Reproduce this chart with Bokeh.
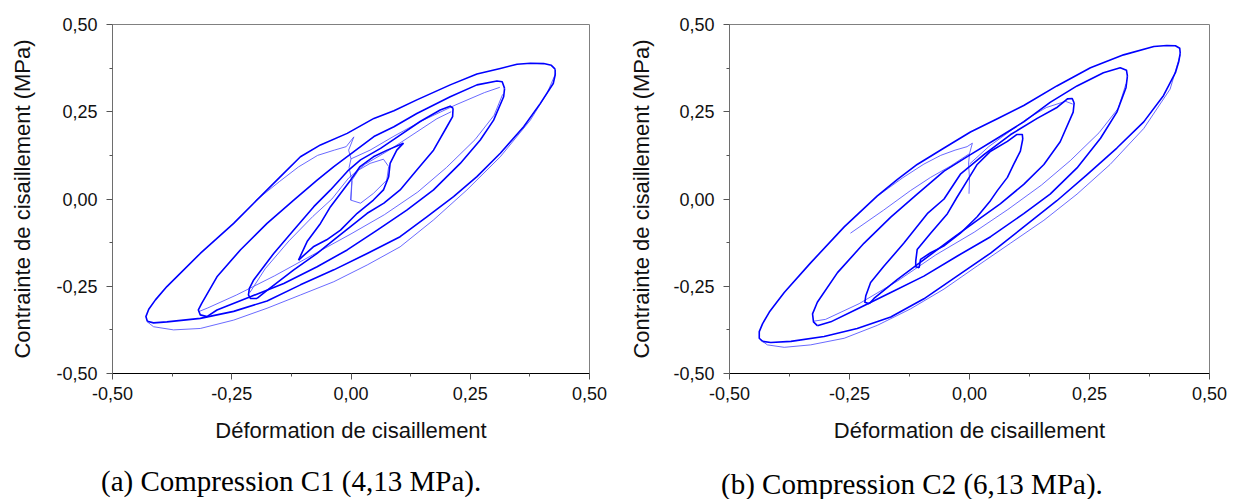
from bokeh.plotting import figure
from bokeh.models import Range1d, FixedTicker, Div
from bokeh.layouts import row, column
from bokeh.embed import file_html
from bokeh.resources import INLINE

# ---------------- data ----------------
TICKS = [-0.5, -0.25, 0.0, 0.25, 0.5]
MINOR = [-0.375, -0.125, 0.125, 0.375]
TICK_LABELS = ["-0,50", "-0,25", "0,00", "0,25", "0,50"]
X_TITLE = "Déformation de cisaillement"
Y_TITLE = "Contrainte de cisaillement (MPa)"
CAPTION_A = "(a) Compression C1 (4,13 MPa)."
CAPTION_B = "(b) Compression C2 (6,13 MPa)."

# ---- panel (a) : C1 ----
A4_UP_X = [-0.427, -0.430, -0.424, -0.410, -0.386, -0.316, -0.246, -0.204, -0.148, -0.106, -0.064, -0.008, 0.048, 0.090, 0.138, 0.208, 0.264, 0.313, 0.348, 0.376, 0.404, 0.420, 0.428]
A4_UP_Y = [-0.350, -0.337, -0.316, -0.289, -0.251, -0.156, -0.070, -0.012, 0.064, 0.121, 0.155, 0.188, 0.231, 0.253, 0.284, 0.327, 0.358, 0.374, 0.386, 0.389, 0.388, 0.383, 0.372]
A4_LO_X = [0.428, 0.428, 0.424, 0.397, 0.362, 0.313, 0.264, 0.215, 0.159, 0.103, 0.034, -0.036, -0.106, -0.176, -0.246, -0.316, -0.386, -0.414, -0.427]
A4_LO_Y = [0.372, 0.355, 0.331, 0.274, 0.207, 0.131, 0.064, 0.007, -0.051, -0.108, -0.156, -0.203, -0.246, -0.292, -0.322, -0.342, -0.352, -0.355, -0.350]
A4_LO2_X = [0.429, 0.411, 0.376, 0.313, 0.243, 0.173, 0.103, 0.034, -0.036, -0.106, -0.176, -0.246, -0.316, -0.372, -0.414, -0.428]
A4_LO2_Y = [0.360, 0.303, 0.226, 0.121, 0.026, -0.060, -0.137, -0.189, -0.237, -0.275, -0.313, -0.347, -0.371, -0.375, -0.366, -0.351]

A3_UP_X = [-0.302, -0.316, -0.320, -0.313, -0.281, -0.232, -0.176, -0.120, -0.071, -0.036, 0.006, 0.048, 0.090, 0.138, 0.208, 0.264, 0.306, 0.317, 0.322]
A3_UP_Y = [-0.337, -0.332, -0.318, -0.299, -0.223, -0.146, -0.070, -0.003, 0.054, 0.093, 0.136, 0.179, 0.207, 0.245, 0.293, 0.327, 0.338, 0.336, 0.317]
A3_LO_X = [0.322, 0.320, 0.299, 0.271, 0.229, 0.173, 0.117, 0.055, -0.008, -0.071, -0.141, -0.211, -0.281, -0.302]
A3_LO_Y = [0.317, 0.293, 0.226, 0.169, 0.102, 0.026, -0.032, -0.089, -0.146, -0.194, -0.242, -0.280, -0.318, -0.337]
A3_IN_X = [0.312, 0.280, 0.220, 0.150, 0.090, 0.040, 0.000]
A3_IN_Y = [0.320, 0.305, 0.270, 0.225, 0.180, 0.140, 0.115]
A3_LO2_X = [0.318, 0.300, 0.260, 0.200, 0.140, 0.070, 0.000, -0.080, -0.160, -0.240, -0.300, -0.318]
A3_LO2_Y = [0.300, 0.240, 0.170, 0.090, 0.020, -0.045, -0.100, -0.160, -0.220, -0.275, -0.312, -0.322]

A2_UP_X = [-0.197, -0.211, -0.215, -0.213, -0.204, -0.162, -0.120, -0.078, -0.043, -0.005, 0.020, 0.062, 0.103, 0.145, 0.187, 0.208, 0.214]
A2_UP_Y = [-0.285, -0.285, -0.275, -0.256, -0.232, -0.156, -0.089, -0.022, 0.026, 0.083, 0.112, 0.145, 0.183, 0.222, 0.255, 0.266, 0.260]
A2_LO_X = [0.214, 0.213, 0.201, 0.173, 0.138, 0.103, 0.069, 0.034, -0.001, -0.036, -0.071, -0.120, -0.176, -0.197]
A2_LO_Y = [0.260, 0.236, 0.207, 0.140, 0.083, 0.026, -0.012, -0.041, -0.079, -0.117, -0.156, -0.203, -0.262, -0.285]
A2_UP2_X = [-0.212, -0.180, -0.130, -0.080, -0.040, -0.005, 0.030, 0.080, 0.130, 0.180, 0.210]
A2_UP2_Y = [-0.268, -0.200, -0.120, -0.050, 0.000, 0.060, 0.100, 0.140, 0.185, 0.230, 0.250]

A1_UP_X = [-0.110, -0.092, -0.064, -0.043, -0.022, -0.001, 0.019, 0.047, 0.076, 0.110]
A1_UP_Y = [-0.175, -0.122, -0.070, -0.022, 0.016, 0.054, 0.093, 0.121, 0.140, 0.160]
A1_LO_X = [0.110, 0.096, 0.082, 0.079, 0.068, 0.047, 0.013, -0.022, -0.051, -0.079, -0.110]
A1_LO_Y = [0.160, 0.140, 0.102, 0.064, 0.026, -0.003, -0.041, -0.089, -0.117, -0.137, -0.175]
A1_IN_X = [-0.001, 0.002, 0.016, 0.040, 0.068, 0.079, 0.075, 0.047, 0.020, -0.001]
A1_IN_Y = [-0.003, 0.054, 0.083, 0.102, 0.114, 0.093, 0.054, 0.016, -0.012, -0.003]

A_LOBE_X = [-0.200, -0.150, -0.110, -0.070, -0.035, -0.010, 0.006, -0.005, 0.000, -0.004, 0.002, 0.000]
A_LOBE_Y = [-0.005, 0.050, 0.092, 0.125, 0.140, 0.150, 0.178, 0.140, 0.115, 0.090, 0.050, -0.003]

# ---- panel (b) : C2 ----
B4_UP_X = [-0.431, -0.438, -0.438, -0.431, -0.417, -0.386, -0.331, -0.261, -0.192, -0.150, -0.109, -0.053, 0.002, 0.058, 0.113, 0.182, 0.252, 0.321, 0.384, 0.411, 0.429, 0.438, 0.439]
B4_UP_Y = [-0.408, -0.399, -0.380, -0.357, -0.324, -0.268, -0.183, -0.080, 0.009, 0.056, 0.099, 0.146, 0.192, 0.230, 0.268, 0.324, 0.376, 0.413, 0.437, 0.440, 0.439, 0.432, 0.418]
B4_LO_X = [0.439, 0.436, 0.429, 0.404, 0.363, 0.307, 0.245, 0.182, 0.113, 0.044, -0.026, -0.095, -0.164, -0.234, -0.303, -0.372, -0.414, -0.431]
B4_LO_Y = [0.418, 0.394, 0.362, 0.296, 0.221, 0.146, 0.070, -0.005, -0.080, -0.155, -0.221, -0.286, -0.338, -0.371, -0.394, -0.408, -0.411, -0.408]
B4_LO2_X = [0.439, 0.418, 0.363, 0.293, 0.224, 0.155, 0.085, 0.016, -0.053, -0.123, -0.192, -0.261, -0.331, -0.386, -0.421, -0.435]
B4_LO2_Y = [0.413, 0.315, 0.202, 0.099, 0.014, -0.061, -0.127, -0.192, -0.258, -0.315, -0.362, -0.399, -0.418, -0.425, -0.418, -0.404]

B3_UP_X = [-0.317, -0.325, -0.327, -0.317, -0.275, -0.220, -0.164, -0.109, -0.053, 0.002, 0.058, 0.113, 0.168, 0.224, 0.279, 0.314, 0.327, 0.329]
B3_UP_Y = [-0.363, -0.352, -0.329, -0.296, -0.211, -0.127, -0.052, 0.014, 0.080, 0.127, 0.174, 0.221, 0.277, 0.324, 0.362, 0.376, 0.369, 0.352]
B3_LO_X = [0.329, 0.326, 0.307, 0.273, 0.224, 0.168, 0.113, 0.044, -0.026, -0.095, -0.164, -0.234, -0.289, -0.317]
B3_LO_Y = [0.352, 0.319, 0.249, 0.174, 0.089, 0.014, -0.042, -0.108, -0.164, -0.221, -0.268, -0.315, -0.352, -0.363]
B3_LO2_X = [0.326, 0.310, 0.270, 0.210, 0.150, 0.080, 0.010, -0.070, -0.150, -0.230, -0.300, -0.324]
B3_LO2_Y = [0.330, 0.260, 0.190, 0.110, 0.040, -0.030, -0.095, -0.160, -0.235, -0.300, -0.345, -0.350]

B2_UP_X = [-0.209, -0.218, -0.216, -0.206, -0.178, -0.137, -0.088, -0.053, -0.019, 0.030, 0.085, 0.141, 0.183, 0.204, 0.214, 0.218]
B2_UP_Y = [-0.300, -0.296, -0.277, -0.239, -0.192, -0.127, -0.042, 0.000, 0.071, 0.127, 0.184, 0.231, 0.263, 0.287, 0.288, 0.275]
B2_LO_X = [0.218, 0.216, 0.189, 0.155, 0.113, 0.064, 0.016, -0.040, -0.095, -0.150, -0.199, -0.209]
B2_LO_Y = [0.275, 0.249, 0.164, 0.099, 0.042, -0.014, -0.061, -0.117, -0.174, -0.230, -0.285, -0.300]
B2_UP2_X = [0.000, 0.040, 0.080, 0.120, 0.160, 0.200, 0.215]
B2_UP2_Y = [0.100, 0.150, 0.190, 0.230, 0.262, 0.280, 0.272]

B1_UP_X = [-0.105, -0.112, -0.112, -0.109, -0.081, -0.046, -0.026, -0.005, 0.016, 0.044, 0.079, 0.099, 0.110, 0.111]
B1_UP_Y = [-0.197, -0.194, -0.178, -0.145, -0.098, -0.042, 0.005, 0.052, 0.099, 0.137, 0.165, 0.185, 0.185, 0.172]
B1_LO_X = [0.111, 0.106, 0.092, 0.079, 0.058, 0.044, 0.016, -0.019, -0.054, -0.081, -0.102, -0.105]
B1_LO_Y = [0.172, 0.137, 0.099, 0.062, 0.024, -0.004, -0.051, -0.098, -0.135, -0.154, -0.173, -0.197]

B_LOBE_X = [-0.190, -0.140, -0.095, -0.060, -0.030, -0.005, 0.006, 0.000, -0.002, 0.000, -0.001]
B_LOBE_Y = [0.010, 0.060, 0.100, 0.125, 0.140, 0.150, 0.160, 0.130, 0.100, 0.060, 0.015]
B_LOBE2_X = [0.000, -0.040, -0.081, -0.123, -0.179, -0.248]
B_LOBE2_Y = [0.130, 0.094, 0.062, 0.024, -0.032, -0.098]

SANS = "Liberation Sans"
SERIF = "Liberation Serif"


def make_panel(width, height, bl, br, bt, bb, ylab_standoff):
    p = figure(width=width, height=height,
               x_range=Range1d(-0.5, 0.5), y_range=Range1d(-0.5, 0.5),
               output_backend="svg", toolbar_location=None,
               min_border_left=bl, min_border_right=br,
               min_border_top=bt, min_border_bottom=bb)
    p.xgrid.visible = False
    p.ygrid.visible = False
    p.outline_line_color = "#808080"
    p.outline_line_width = 1
    p.background_fill_color = "white"
    p.border_fill_color = "white"
    overrides = {t: s for t, s in zip(TICKS, TICK_LABELS)}
    for ax, title, line_col in ((p.xaxis[0], X_TITLE, "#000000"), (p.yaxis[0], Y_TITLE, "#6e6e6e")):
        ax.ticker = FixedTicker(ticks=TICKS, minor_ticks=MINOR)
        ax.major_label_overrides = overrides
        ax.axis_label = title
        ax.axis_label_text_font = SANS
        ax.axis_label_text_font_size = "22px"
        ax.axis_label_text_font_style = "normal"
        ax.axis_label_text_color = "#111111"
        ax.major_label_text_font = SANS
        ax.major_label_text_font_size = "18px"
        ax.major_label_text_color = "#111111"
        ax.axis_line_color = line_col
        ax.axis_line_width = 1
        ax.major_tick_line_color = "#555555"
        ax.minor_tick_line_color = "#555555"
        ax.major_tick_out = 6
        ax.major_tick_in = 0
        ax.minor_tick_out = 3
        ax.minor_tick_in = 0
    p.xaxis[0].major_label_standoff = 7
    p.xaxis[0].axis_label_standoff = 15
    p.yaxis[0].major_label_standoff = 9
    p.yaxis[0].axis_label_standoff = ylab_standoff
    return p


def make_caption(text, width, pad_left, pad_top):
    html = ('<div style="padding-left:%dpx;padding-top:%dpx;white-space:nowrap;'
            'font-family:\'Liberation Serif\',serif;font-size:29px;line-height:30px;color:#000">%s</div>'
            % (pad_left, pad_top, text))
    return Div(text=html, width=width, height=33, margin=0)


pa = make_panel(624, 466, 112, 35, 24, 93, 18)
pb = make_panel(615, 466, 105, 30, 18, 93, 16)

thick_a = [(A4_UP_X, A4_UP_Y), (A4_LO_X, A4_LO_Y), (A3_UP_X, A3_UP_Y), (A3_LO_X, A3_LO_Y),
           (A2_UP_X, A2_UP_Y), (A2_LO_X, A2_LO_Y), (A1_UP_X, A1_UP_Y), (A1_LO_X, A1_LO_Y)]
thin_a = [(A4_LO2_X, A4_LO2_Y), (A3_IN_X, A3_IN_Y), (A3_LO2_X, A3_LO2_Y),
          (A2_UP2_X, A2_UP2_Y), (A_LOBE_X, A_LOBE_Y), (A1_IN_X, A1_IN_Y)]
thick_b = [(B4_UP_X, B4_UP_Y), (B4_LO_X, B4_LO_Y), (B3_UP_X, B3_UP_Y), (B3_LO_X, B3_LO_Y),
           (B2_UP_X, B2_UP_Y), (B2_LO_X, B2_LO_Y), (B1_UP_X, B1_UP_Y), (B1_LO_X, B1_LO_Y)]
thin_b = [(B4_LO2_X, B4_LO2_Y), (B3_LO2_X, B3_LO2_Y), (B2_UP2_X, B2_UP2_Y),
          (B_LOBE_X, B_LOBE_Y), (B_LOBE2_X, B_LOBE2_Y)]

for p, thick, thin in ((pa, thick_a, thin_a), (pb, thick_b, thin_b)):
    for xs, ys in thin:
        p.line(xs, ys, line_color="#5050ff", line_width=1, line_alpha=0.85, line_join="round")
    for xs, ys in thick:
        p.line(xs, ys, line_color="#0000ff", line_width=1.6, line_join="round")

cap_a = make_caption(CAPTION_A, 624, 101, 0)
cap_b = make_caption(CAPTION_B, 615, 97, 3)

layout = column(row(pa, pb, spacing=0), row(cap_a, cap_b, spacing=0), spacing=0)
open("out.html", "w").write(file_html(layout, INLINE))
